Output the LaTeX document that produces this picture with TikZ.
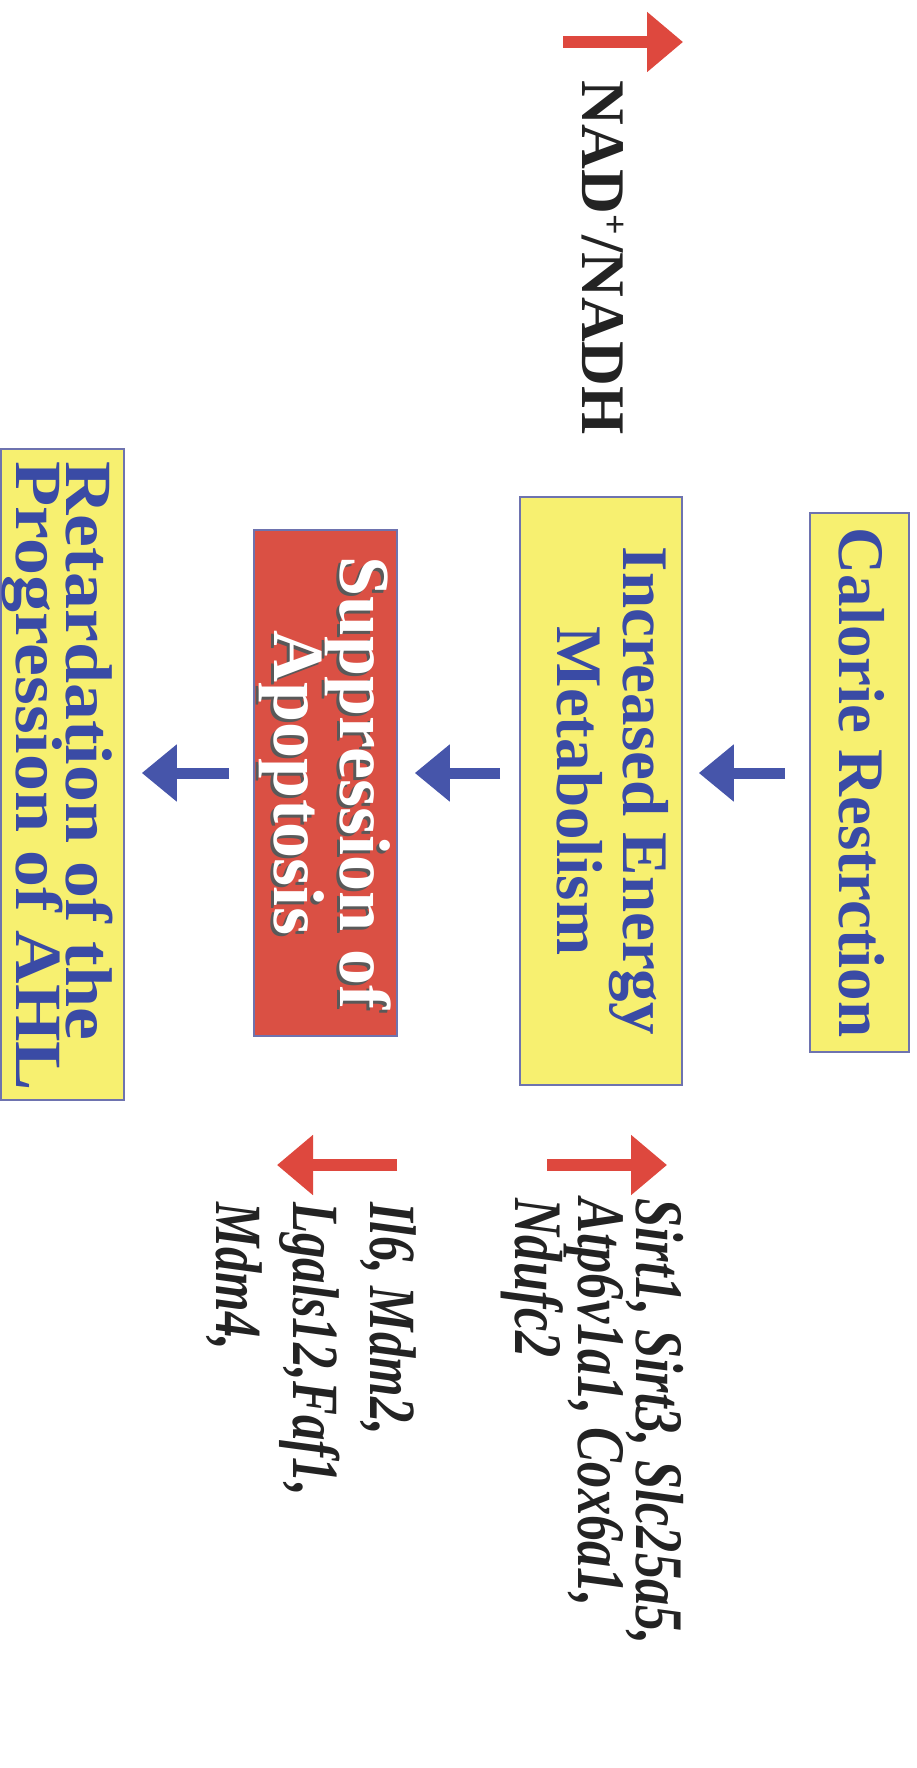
\documentclass[tikz,border=0pt]{standalone}
\usepackage{fontspec}
\setmainfont{Liberation Serif}
\usetikzlibrary{arrows.meta}
\definecolor{boxyellow}{RGB}{247,240,112}
\definecolor{boxred}{RGB}{218,80,68}
\definecolor{boxborder}{RGB}{110,115,175}
\definecolor{textblue}{RGB}{58,75,165}
\definecolor{arrowblue}{RGB}{70,85,170}
\definecolor{arrowred}{RGB}{222,72,62}
\definecolor{textblack}{RGB}{35,35,35}
\begin{document}
\begin{tikzpicture}[x=1pt,y=1pt,
  ybox/.style={draw=boxborder, line width=1.6pt, fill=boxyellow, inner sep=0pt},
  rbox/.style={draw=boxborder, line width=1.6pt, fill=boxred, inner sep=0pt},
  boxtxt/.style={rotate=-90, align=center, text=textblue, inner sep=0pt,
    font=\fontsize{65}{66}\selectfont\bfseries},
  redtxt/.style={rotate=-90, align=center, text=white, inner sep=0pt,
    font=\fontsize{72}{62}\selectfont\bfseries},
  shadowtxt/.style={redtxt, text=black!65},
  barrow/.style={draw=arrowblue, line width=11pt, -{Triangle[length=35pt,width=55pt]}},
  rarrow/.style={draw=arrowred, line width=12pt, -{Triangle[length=36pt,width=58pt]}},
  gene/.style={rotate=-90, xscale=0.77, align=left, anchor=north west, inner sep=0pt,
    text=textblack, font=\fontsize{68}{58}\selectfont\bfseries\itshape},
  nadtxt/.style={rotate=-90, anchor=base west, inner sep=0pt, text=textblack,
    font=\fontsize{62}{62}\selectfont\bfseries}
]
\fill[white] (0,0) rectangle (916,-1768);
\useasboundingbox (0,0) rectangle (916,-1768);

% boxes
\node[ybox, minimum width=99pt, minimum height=539pt] (cal) at (859.5,-782.5) {};
\node[ybox, minimum width=162pt, minimum height=588pt] (inc) at (601,-791) {};
\node[rbox, minimum width=143pt, minimum height=506pt] (sup) at (325.5,-783) {};
\node[ybox, minimum width=123pt, minimum height=651pt] (ret) at (62.5,-774.5) {};

% box texts
\node[boxtxt] (calt) at ([xshift=2pt]cal.center) {Calorie Restrction};
\node[boxtxt] (inct) at ([xshift=12pt]inc.center) {Increased Energy\\Metabolism};
\node[shadowtxt] (supsh) at ([shift={(-3,-3)}]sup.center) {Suppression of\\Apoptosis};
\node[redtxt] (supt) at (sup.center) {Suppression of\\Apoptosis};
\node[boxtxt, align=left, anchor=north west, xscale=1.12, font=\fontsize{66}{50}\selectfont\bfseries] (rett) at ([shift={(51pt,-13pt)}]ret.north) {Retardation of the\\Progression of AHL};

% blue arrows
\coordinate (row) at (0,-773);
\draw[barrow] ([xshift=-24pt]cal.west |- row) -- ([xshift=16pt]inc.east |- row);
\draw[barrow] ([xshift=-19pt]inc.west |- row) -- ([xshift=17pt]sup.east |- row);
\draw[barrow] ([xshift=-24pt]sup.west |- row) -- ([xshift=17pt]ret.east |- row);

% NAD+/NADH
\coordinate (nadtail) at (563,-42);
\coordinate (nadtip) at (683,-42);
\draw[rarrow] (nadtail) -- (nadtip);
\node[nadtxt] (nad) at (582,-80) {NAD\raisebox{0.35em}{\fontsize{36}{36}\selectfont +}/NADH};

% gene lists
\coordinate (uptail) at (547,-1165);
\coordinate (uptip) at (667,-1165);
\draw[rarrow] (uptail) -- (uptip);
\node[gene] (upg) at (684,-1198) {Sirt1, Sirt3, Slc25a5,\\Atp6v1a1, Cox6a1,\\Ndufc2};

\coordinate (dntail) at (397,-1165);
\coordinate (dntip) at (277,-1165);
\draw[rarrow] (dntail) -- (dntip);
\node[gene, font=\fontsize{66}{77}\selectfont\bfseries\itshape] (dng) at (416,-1202) {Il6, Mdm2,\\Lgals12,Faf1,\\Mdm4,};
\end{tikzpicture}
\end{document}
